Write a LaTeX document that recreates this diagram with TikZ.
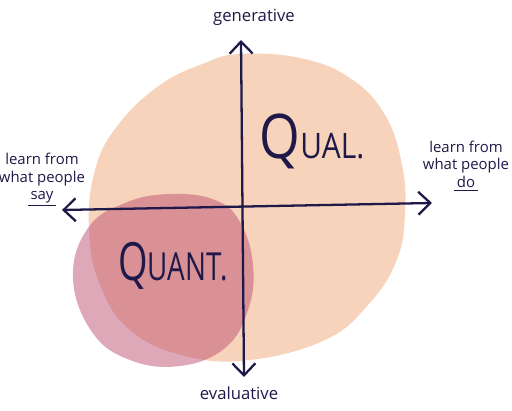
\documentclass[tikz,border=0pt]{standalone}
\usepackage{fontspec}
\usepackage{graphicx}
\usetikzlibrary{arrows.meta,positioning}

\setmainfont{Open Sans}
\definecolor{peach}{RGB}{247,211,187}
\definecolor{rose}{RGB}{189,81,115}
\definecolor{ink}{RGB}{30,25,72}

\begin{document}
\begin{tikzpicture}[x=0.02cm, y=-0.02cm,
  blob/.style={draw=none},
  axis/.style={{Straight Barb[length=2.4mm,width=4.6mm]}-{Straight Barb[length=2.4mm,width=4.6mm]},
    line width=1.3pt, draw=ink},
  pole/.style={font=\fontsize{9.5}{10}\selectfont, text=ink, inner sep=0pt},
  side/.style={align=center, font=\fontsize{8.5}{10}\selectfont, text=ink, inner sep=0pt},
  big/.style={text=ink, inner sep=0pt},
]
  \useasboundingbox (0,0) rectangle (512,411);

  % Circle and overlapping blob
  \fill[blob, peach] plot[smooth cycle, tension=0.7] coordinates {
    (240,54) (300,58) (350,78) (385,115) (402,165) (405,215) (396,262)
    (368,305) (325,340) (250,360) (185,356) (130,330) (100,285) (89,230)
    (95,170) (118,125) (160,85) (205,63)};
  \fill[blob, rose, opacity=0.5] plot[smooth cycle, tension=0.7] coordinates {
    (170,194) (215,200) (240,222) (253,265) (248,310) (225,348) (180,366)
    (130,360) (92,332) (73,278) (88,228) (125,203)};

  % Axis ends
  \coordinate (top) at (241,40);
  \coordinate (bot) at (244,377);
  \coordinate (lft) at (62,210);
  \coordinate (rgt) at (432,203);

  \draw[axis] (bot) -- (top);
  \draw[axis] (lft) -- (rgt);

  % Pole labels
  \node[pole] (gen) at (254,17) {generative};
  \node[pole] (eval) at (239,393) {evaluative};
  \node[side] (say) at (42,180) {learn from\\what people\\\underline{\,say\,}};
  \node[side] (do) at (466,166) {learn from\\what people\\\underline{\,do\,}};

  % Quadrant labels
  \node[big] (qual) at (312,141)
    {\scalebox{0.85}[1]{{\fontsize{35}{35}\selectfont Q}{\fontsize{20}{20}\selectfont UAL.}}};
  \node[big] (quant) at (173,266)
    {\scalebox{0.72}[1]{{\fontsize{30}{30}\selectfont Q}{\fontsize{22}{22}\selectfont UANT.}}};
\end{tikzpicture}
\end{document}
